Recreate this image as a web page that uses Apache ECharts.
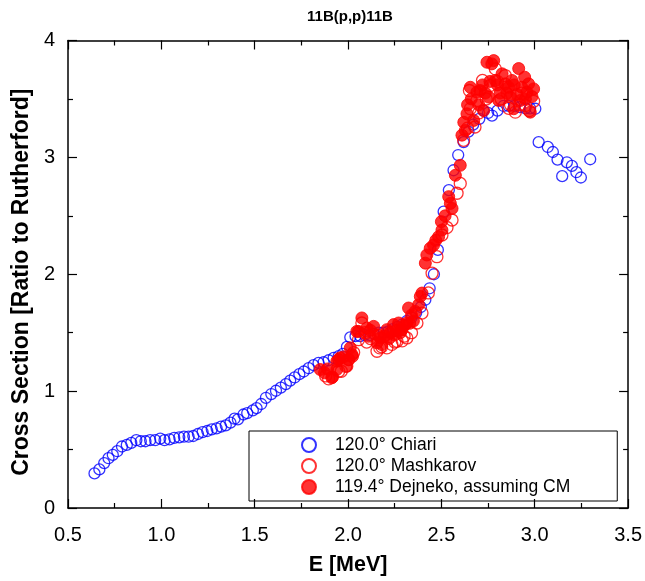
<!DOCTYPE html>
<html>
<head>
<meta charset="utf-8">
<script src="https://cdn.jsdelivr.net/npm/echarts@6/dist/echarts.min.js"></script>
<style>html,body{margin:0;padding:0;background:#fff;}#c{width:645px;height:581px;}</style>
</head>
<body>
<div id="c"></div>
<script>
// E [MeV], cross section ratio
var chiariE = [0.642,0.668,0.694,0.717,0.740,0.764,0.789,0.815,0.839,0.866,0.890,0.915,0.940,0.967,0.994,1.017,1.044,1.069,1.096,1.121,1.146,1.171,1.196,1.221,1.246,1.270,1.296,1.320,1.345,1.370,1.392,1.410,1.440,1.460,1.490,1.510,1.535,1.560,1.589,1.614,1.640,1.667,1.690,1.714,1.739,1.763,1.789,1.815,1.842,1.869,1.896,1.923,1.950,1.972,1.994,2.012,2.040,2.065,2.090,2.115,2.140,2.165,2.190,2.215,2.240,2.265,2.290,2.315,2.340,2.365,2.390,2.414,2.437,2.460,2.481,2.512,2.540,2.565,2.590,2.619,2.645,2.670,2.703,2.726,2.750,2.771,2.800,2.833,2.860,2.890,2.920,2.950,2.975,3.003,3.021,3.070,3.097,3.122,3.147,3.172,3.199,3.223,3.247,3.297];
var chiariY = [0.296,0.330,0.384,0.426,0.454,0.486,0.526,0.540,0.557,0.580,0.571,0.571,0.580,0.580,0.594,0.580,0.588,0.600,0.605,0.610,0.610,0.616,0.633,0.650,0.659,0.673,0.682,0.696,0.707,0.730,0.764,0.758,0.800,0.812,0.835,0.855,0.890,0.943,0.975,1.003,1.030,1.060,1.090,1.117,1.145,1.168,1.196,1.222,1.242,1.247,1.264,1.285,1.300,1.319,1.378,1.460,1.470,1.470,1.480,1.480,1.490,1.500,1.500,1.510,1.530,1.550,1.570,1.600,1.630,1.670,1.720,1.782,1.880,2.000,2.208,2.535,2.720,2.890,3.020,3.131,3.220,3.280,3.330,3.400,3.380,3.358,3.400,3.440,3.440,3.440,3.430,3.420,3.420,3.416,3.130,3.089,3.046,2.981,2.839,2.958,2.927,2.873,2.828,2.984];

var mashE = [1.880,1.896,1.950,1.964,1.988,2.003,2.030,2.056,2.074,2.090,2.100,2.120,2.155,2.170,2.180,2.208,2.235,2.250,2.262,2.290,2.300,2.315,2.340,2.369,2.396,2.430,2.450,2.476,2.503,2.530,2.557,2.584,2.601,2.619,2.640,2.650,2.655,2.680,2.690,2.700,2.720,2.740,2.762,2.789,2.800,2.820,2.842,2.860,2.870,2.896,2.920,2.930,2.951,2.970,2.994];
var mashY = [1.130,1.105,1.170,1.170,1.213,1.270,1.330,1.440,1.583,1.500,1.420,1.450,1.341,1.370,1.380,1.370,1.400,1.420,1.426,1.430,1.470,1.455,1.500,1.583,1.668,1.840,2.009,2.150,2.336,2.400,2.464,2.693,2.777,3.146,3.250,3.572,3.416,3.260,3.487,3.380,3.658,3.500,3.615,3.757,3.650,3.500,3.700,3.420,3.450,3.387,3.450,3.550,3.444,3.400,3.480];

var dejE = [1.851,1.874,1.890,1.913,1.917,1.940,1.940,1.949,1.958,1.976,1.994,2.003,2.012,2.021,2.024,2.047,2.056,2.074,2.101,2.110,2.120,2.137,2.155,2.160,2.173,2.181,2.195,2.208,2.220,2.225,2.244,2.250,2.260,2.271,2.280,2.289,2.300,2.315,2.324,2.330,2.340,2.350,2.360,2.378,2.387,2.396,2.414,2.422,2.440,2.458,2.470,2.485,2.500,2.503,2.520,2.539,2.548,2.557,2.575,2.601,2.610,2.620,2.628,2.637,2.640,2.655,2.660,2.673,2.690,2.700,2.708,2.720,2.726,2.735,2.744,2.753,2.760,2.770,2.780,2.789,2.800,2.807,2.815,2.825,2.842,2.850,2.860,2.869,2.878,2.887,2.890,2.905,2.914,2.923,2.930,2.946,2.950,2.958,2.967,2.976,2.985,2.994];
var dejY = [1.185,1.157,1.190,1.114,1.120,1.185,1.256,1.270,1.285,1.293,1.213,1.270,1.370,1.313,1.298,1.511,1.511,1.626,1.540,1.469,1.520,1.554,1.413,1.480,1.455,1.398,1.470,1.526,1.450,1.500,1.569,1.480,1.520,1.583,1.500,1.526,1.560,1.583,1.711,1.580,1.650,1.600,1.682,1.739,1.810,1.839,2.095,2.165,2.222,2.250,2.290,2.321,2.450,2.378,2.500,2.664,2.606,2.563,2.847,2.932,3.190,3.300,3.230,3.373,3.450,3.600,3.500,3.316,3.558,3.450,3.572,3.620,3.400,3.550,3.814,3.516,3.650,3.800,3.828,3.658,3.620,3.487,3.550,3.715,3.629,3.550,3.600,3.516,3.658,3.416,3.620,3.538,3.760,3.487,3.600,3.686,3.500,3.558,3.629,3.387,3.520,3.586];

var seriesNames = ['120.0\u00b0 Chiari','120.0\u00b0 Mashkarov','119.4\u00b0 Dejneko, assuming CM'];
var chartTitle = '11B(p,p)11B';
var xName = 'E [MeV]';
var yName = 'Cross Section [Ratio to Rutherford]';

function zip(a,b){ var r=[]; for(var i=0;i<a.length;i++) r.push([a[i],b[i]]); return r; }

var FONT = 'Liberation Sans, Arial, sans-serif';
var chart = echarts.init(document.getElementById('c'), null, {renderer:'canvas'});
var axisCommon = {
  axisLine:{show:true, onZero:false, lineStyle:{color:'#000', width:1.5}},
  axisTick:{show:true, inside:true, length:9, lineStyle:{color:'#000', width:1.2}},
  minorTick:{show:true, splitNumber:2, length:5, lineStyle:{color:'#000', width:1.2}},
  splitLine:{show:false}
};
chart.setOption({
  animation:false,
  backgroundColor:'#fff',
  title:{text:chartTitle, left:345, top:4, textAlign:'center', textStyle:{fontFamily:FONT, fontWeight:'bold', fontSize:15, color:'#000'}},
  grid:{left:68, right:15.5, top:40.5, bottom:72},
  xAxis:[
    Object.assign({type:'value', min:0.5, max:3.5, interval:0.5, position:'bottom',
      name:xName, nameLocation:'middle', nameGap:46,
      nameTextStyle:{fontFamily:FONT, fontWeight:'bold', fontSize:21.5, color:'#000'},
      axisLabel:{fontFamily:FONT, fontSize:20, color:'#000', margin:17, formatter:function(v){return v.toFixed(1);}}}, axisCommon),
    Object.assign({type:'value', min:0.5, max:3.5, interval:0.5, position:'top', axisLabel:{show:false}}, axisCommon)
  ],
  yAxis:[
    Object.assign({type:'value', min:0, max:4, interval:1, position:'left',
      name:yName, nameLocation:'middle', nameGap:33, nameRotate:90,
      nameTextStyle:{fontFamily:FONT, fontWeight:'bold', fontSize:23, color:'#000', padding:[0,16,0,0]},
      axisLabel:{fontFamily:FONT, fontSize:20, color:'#000', margin:13}}, axisCommon),
    Object.assign({type:'value', min:0, max:4, interval:1, position:'right', axisLabel:{show:false}}, axisCommon)
  ],
  legend:{
    orient:'vertical', left:249, top:431,
    data:seriesNames,
    itemWidth:14, itemHeight:14, itemGap:3,
    padding:[5,47,5,52],
    borderColor:'#000', borderWidth:1,
    textStyle:{fontFamily:FONT, fontSize:17.5, color:'#000', padding:[0,0,0,14]}
  },
  series:[
    {name:seriesNames[0], type:'scatter', data:zip(chiariE,chiariY), symbol:'circle', symbolSize:11,
     itemStyle:{color:'rgba(255,255,255,0)', borderColor:'#0000ff', borderWidth:1.3}},
    {name:seriesNames[1], type:'scatter', data:zip(mashE,mashY), symbol:'circle', symbolSize:12,
     itemStyle:{color:'rgba(255,255,255,0)', borderColor:'#ff0000', borderWidth:1.3}},
    {name:seriesNames[2], type:'scatter', data:zip(dejE,dejY), symbol:'circle', symbolSize:12,
     itemStyle:{color:'#ff0000', borderColor:'#ff0000', borderWidth:1}}
  ]
});
</script>
</body>
</html>
